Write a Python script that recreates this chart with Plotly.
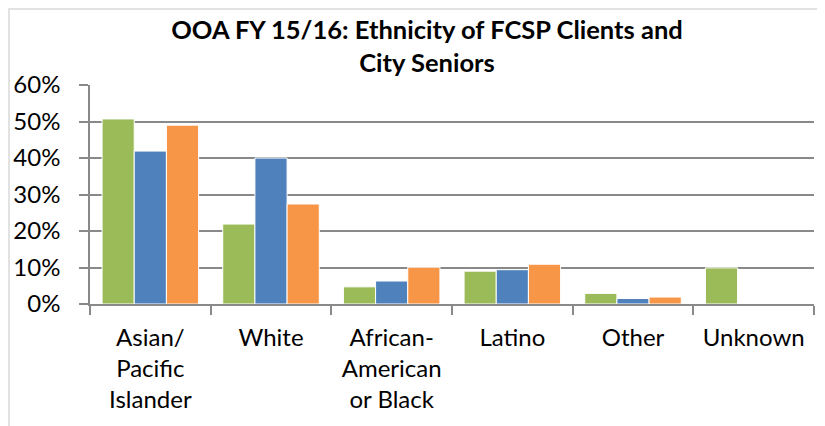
import plotly.graph_objects as go

categories = ["Asian/<br>Pacific<br>Islander", "White", "African-<br>American<br>or Black", "Latino", "Other", "Unknown"]
series_green = [0.507, 0.219, 0.047, 0.090, 0.029, 0.099]
series_blue = [0.419, 0.400, 0.063, 0.094, 0.015, None]
series_orange = [0.490, 0.274, 0.101, 0.109, 0.019, None]
series_names = ["FCSP Clients A", "FCSP Clients B", "City Seniors"]
colors = ["#9BBB59", "#4F81BD", "#F79646"]

FONT = "Lato"
W, H = 817, 418
L, R, T, B = 82, 11, 77, 122
PW, PH = W - L - R, H - T - B

fig = go.Figure()
for name, vals, col in zip(series_names, [series_green, series_blue, series_orange], colors):
    fig.add_trace(go.Bar(
        x=categories, y=vals, name=name,
        marker=dict(color=col, line=dict(color="#FFFFFF", width=1)),
    ))

fig.update_layout(
    width=W, height=H,
    margin=dict(l=L, r=R, t=T, b=B, autoexpand=False),
    paper_bgcolor="white", plot_bgcolor="white",
    barmode="group", bargap=0.2, bargroupgap=0,
    showlegend=False,
    font=dict(family=FONT, size=24, color="#000000"),
    title=dict(
        text="<b>OOA FY 15/16: Ethnicity of FCSP Clients and<br>City Seniors</b>",
        x=(427 - 8) / W, xanchor="center", xref="container",
        y=1 - (38.5 - 8) / H, yanchor="middle", yref="container",
        font=dict(family=FONT, size=25.5, color="#000000"),
    ),
    shapes=[dict(
        type="rect", xref="paper", yref="paper",
        x0=(1 - L) / PW, x1=(W + 20 - L) / PW,
        y0=-(B + 30) / PH, y1=1 + (T - 1) / PH,
        line=dict(color="#D9D9D9", width=1.5), fillcolor="rgba(0,0,0,0)", layer="below",
    )],
)

fig.update_xaxes(
    automargin=False,
    showline=True, linecolor="#898989", linewidth=1.5,
    ticks="outside", ticklen=9, tickcolor="#898989", tickwidth=1.5,
    tickson="boundaries", showgrid=False,
    tickfont=dict(family=FONT, size=24, color="#000000"),
    ticklabelstandoff=11,
)
fig.update_yaxes(
    automargin=False,
    range=[0, 0.6], dtick=0.1, tickformat=".0%",
    showline=True, linecolor="#898989", linewidth=1.5,
    ticks="outside", ticklen=9, tickcolor="#898989", tickwidth=1.5,
    showgrid=True, gridcolor="#898989", gridwidth=1.5,
    zeroline=False,
    tickfont=dict(family=FONT, size=24, color="#000000"),
    ticklabelstandoff=14,
)

fig.write_html("out.html")
